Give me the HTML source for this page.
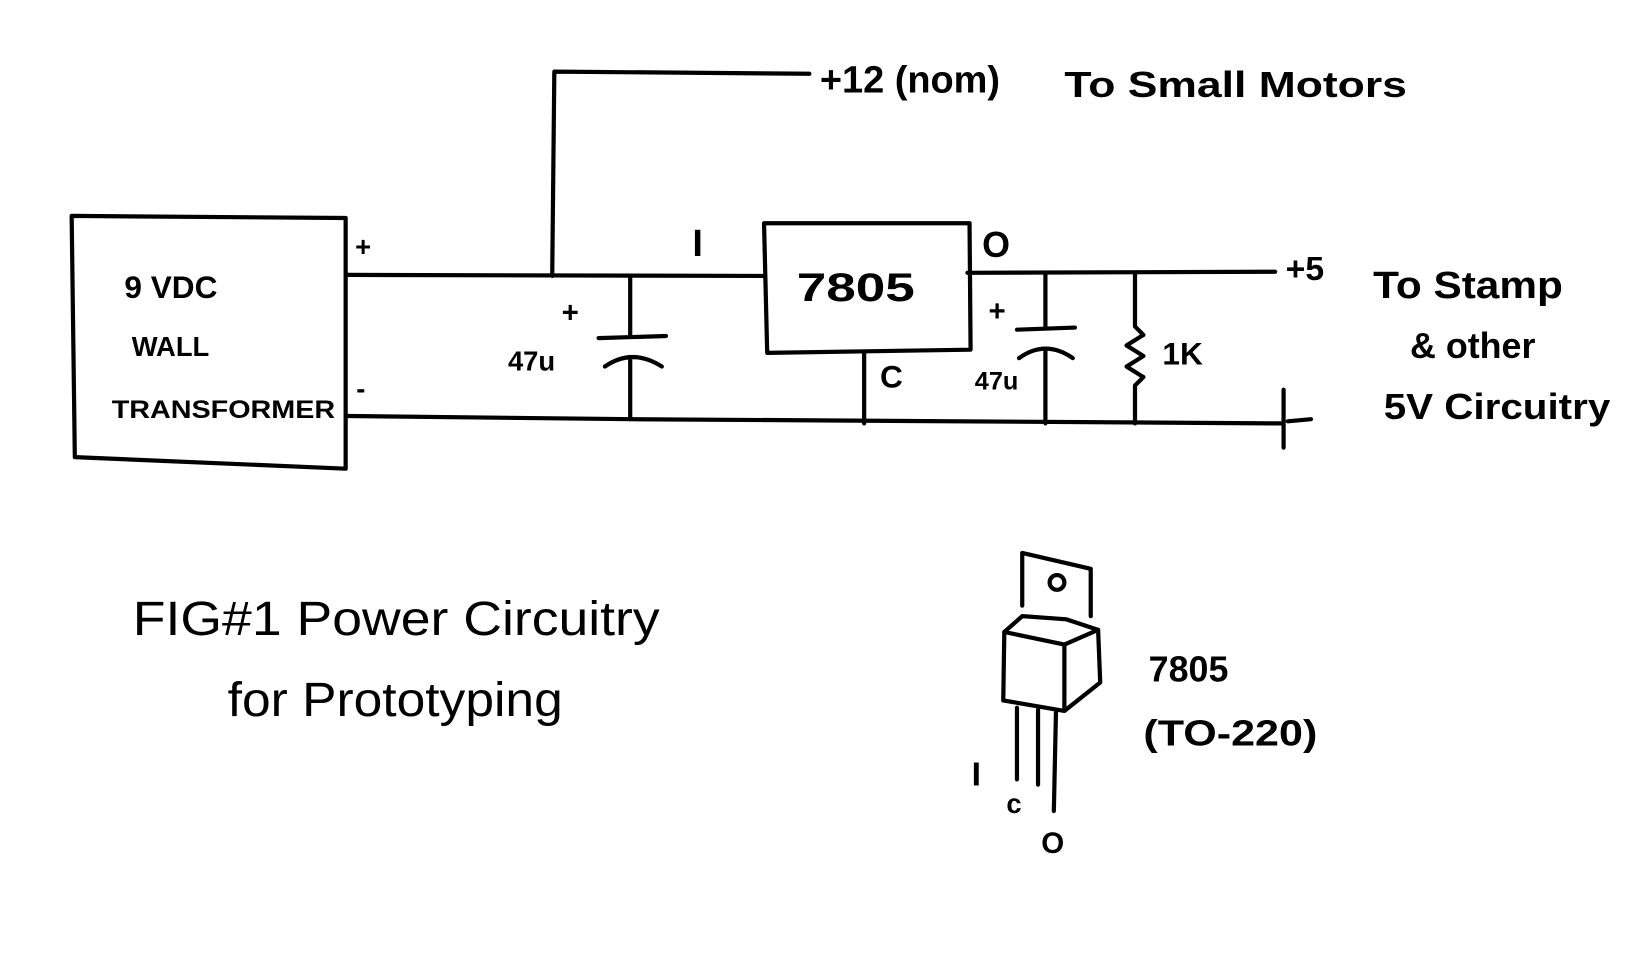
<!DOCTYPE html>
<html><head><meta charset="utf-8"><style>
html,body{margin:0;padding:0;background:#fff;width:1644px;height:969px;overflow:hidden}
svg{display:block}
text{font-family:"Liberation Sans",sans-serif;fill:#000}
</style></head><body>
<svg width="1644" height="969" viewBox="0 0 1560 920" preserveAspectRatio="none" xmlns="http://www.w3.org/2000/svg">
<g stroke="#000" stroke-width="4" fill="none" stroke-linecap="round" stroke-linejoin="round">
<!-- transformer -->
<path d="M68 205 L328 207 L328 445 M68 205 L71 434 L328 445"/>
<!-- top wire and +12 branch -->
<path d="M330 261 L725 262"/>
<path d="M524 262 L526 68 L768 70"/>
<!-- 7805 box -->
<path d="M725 212 L920 212 L921 332 L728 335 Z"/>
<!-- output wire -->
<path d="M918 259 L1210 258"/>
<!-- ground wire -->
<path d="M330 395 L600 398 L1215 402"/>
<path d="M1218 370 L1218 425 M1222 400 L1244 398"/>
<!-- cap 1 -->
<path d="M598 262 L598 320 M568 321 L632 319 M574 348 Q600 330 628 348 M598 340 L598 398"/>
<!-- C pin -->
<path d="M820 335 L820 402"/>
<!-- cap 2 -->
<path d="M992 260 L992 312 M965 313 L1020 311 M967 340 Q992 322 1018 340 M992 332 L992 402"/>
<!-- resistor -->
<path d="M1077 260 L1077 310 L1085 318 L1069 328 L1085 338 L1069 348 L1085 358 L1077 366 L1077 402"/>
<!-- TO-220 -->
<path d="M970 525 L1035 540 L1035 585 M970 525 L970 575"/>
<circle cx="1003" cy="553" r="7"/>
<path d="M953 600 L970 585 L1012 588 L1042 598 L1010 612 L953 600 Z"/>
<path d="M953 600 L952 665 L1010 675 L1010 612 M1042 598 L1044 648 L1010 675"/>
<path d="M965 672 L965 740 M985 674 L985 745 M1002 676 L1000 770"/>
</g>
<g font-weight="bold">
<text x="118" y="283" font-size="30">9 VDC</text>
<text x="125" y="338" font-size="26">WALL</text>
<text x="106" y="397" font-size="24" textLength="212" lengthAdjust="spacingAndGlyphs">TRANSFORMER</text>
<text x="337" y="243" font-size="26">+</text>
<text x="338" y="378" font-size="26">-</text>
<text x="778" y="88" font-size="36">+12 (nom)</text>
<text x="1010" y="92" font-size="34" textLength="325" lengthAdjust="spacingAndGlyphs">To Small Motors</text>
<text x="657" y="243" font-size="36">I</text>
<text x="932" y="244" font-size="34">O</text>
<text x="756" y="286" font-size="38" textLength="112" lengthAdjust="spacingAndGlyphs">7805</text>
<text x="1220" y="266" font-size="32">+5</text>
<text x="1303" y="283" font-size="36" textLength="180" lengthAdjust="spacingAndGlyphs">To Stamp</text>
<text x="1338" y="340" font-size="34">&amp; other</text>
<text x="1313" y="398" font-size="34" textLength="215" lengthAdjust="spacingAndGlyphs">5V Circuitry</text>
<text x="533" y="306" font-size="28">+</text>
<text x="482" y="352" font-size="26">47u</text>
<text x="938" y="305" font-size="28">+</text>
<text x="925" y="370" font-size="24">47u</text>
<text x="835" y="368" font-size="30">C</text>
<text x="1103" y="346" font-size="30">1K</text>
<text x="126" y="603" font-size="46" font-weight="normal" textLength="500" lengthAdjust="spacingAndGlyphs">FIG#1  Power Circuitry</text>
<text x="216" y="680" font-size="46" font-weight="normal" textLength="318" lengthAdjust="spacingAndGlyphs">for  Prototyping</text>
<text x="1090" y="647" font-size="34">7805</text>
<text x="1085" y="708" font-size="34" textLength="165" lengthAdjust="spacingAndGlyphs">(TO-220)</text>
<text x="922" y="746" font-size="32">I</text>
<text x="955" y="772" font-size="26">c</text>
<text x="988" y="810" font-size="28">O</text>
</g>
</svg>
</body></html>
